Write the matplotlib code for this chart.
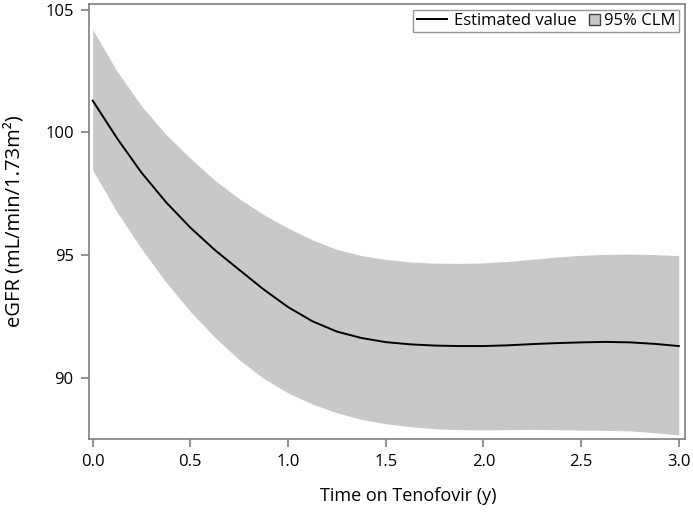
import matplotlib
matplotlib.use("Agg")
import matplotlib.pyplot as plt
import matplotlib.patches as mpatches
from matplotlib.lines import Line2D
from matplotlib.legend_handler import HandlerPatch

plt.rcParams['font.family'] = ['Open Sans', 'DejaVu Sans']

# time on tenofovir (years), every 0.125 y
years = [0.0, 0.125, 0.25, 0.375, 0.5, 0.625, 0.75, 0.875, 1.0, 1.125, 1.25,
         1.375, 1.5, 1.625, 1.75, 1.875, 2.0, 2.125, 2.25, 2.375, 2.5, 2.625,
         2.75, 2.875, 3.0]
estimate = [101.3, 99.76, 98.36, 97.16, 96.12, 95.21, 94.4, 93.6, 92.88, 92.3,
            91.88, 91.62, 91.45, 91.36, 91.31, 91.29, 91.29, 91.32, 91.37, 91.41,
            91.44, 91.46, 91.44, 91.38, 91.29]
upper = [104.2, 102.49, 101.08, 99.92, 98.95, 98.05, 97.3, 96.65, 96.1, 95.62,
         95.23, 94.98, 94.82, 94.72, 94.67, 94.66, 94.68, 94.74, 94.83, 94.92,
         94.99, 95.03, 95.04, 95.02, 94.98]
lower = [98.47, 96.75, 95.25, 93.9, 92.7, 91.65, 90.73, 89.97, 89.38, 88.92,
         88.57, 88.3, 88.12, 88.0, 87.92, 87.88, 87.87, 87.88, 87.89, 87.88,
         87.86, 87.85, 87.83, 87.76, 87.66]

xticks = [0.0, 0.5, 1.0, 1.5, 2.0, 2.5, 3.0]
yticks = [90, 95, 100, 105]

grey = '#7f7f7f'
band = '#c8c8c8'


def square_patch(legend, orig_handle, xdescent, ydescent, width, height, fontsize):
    # square box drawn at the right end of the (long) handle slot
    s = height * 0.92
    shift = 0.2 * fontsize
    return mpatches.Rectangle((-xdescent + width - s + shift, -ydescent + (height - s) / 2), s, s)


fig = plt.figure(figsize=(6.93, 5.12), dpi=100)
ax = fig.add_axes([0.1284, 0.1426, 0.8601, 0.8496])

ax.fill_between(years, lower, upper, color=band, linewidth=0)
ax.plot(years, estimate, color='black', linewidth=1.4)

ax.set_xlim(-0.019, 3.032)
ax.set_ylim(87.5, 105.24)
ax.set_xticks(xticks)
ax.set_xticklabels([f'{t:.1f}' for t in xticks])
ax.set_yticks(yticks)

for s in ax.spines.values():
    s.set_color(grey)
    s.set_linewidth(1.2)
ax.tick_params(direction='out', length=6, width=1.2, color=grey,
               labelsize=12, pad=5)

ax.set_xlabel('Time on Tenofovir (y)', fontsize=13)
ax.xaxis.set_label_coords(0.535, -0.11)
ax.set_ylabel('eGFR (mL/min/1.73m²)', fontsize=14.5, labelpad=15)

handles = [Line2D([], [], color='black', linewidth=1.4),
           mpatches.Patch(facecolor=band, edgecolor='#404040', linewidth=1.0)]
leg = ax.legend(handles, ['Estimated value', '95% CLM'], loc='upper right',
                ncol=2, fontsize=12, frameon=True, fancybox=False,
                borderaxespad=0.35, handlelength=1.8, handletextpad=0.45,
                columnspacing=-0.6, borderpad=0.2,
                handler_map={mpatches.Patch: HandlerPatch(patch_func=square_patch)})
leg.get_frame().set_edgecolor(grey)
leg.get_frame().set_linewidth(1.0)

fig.savefig('out.png', dpi=100)
